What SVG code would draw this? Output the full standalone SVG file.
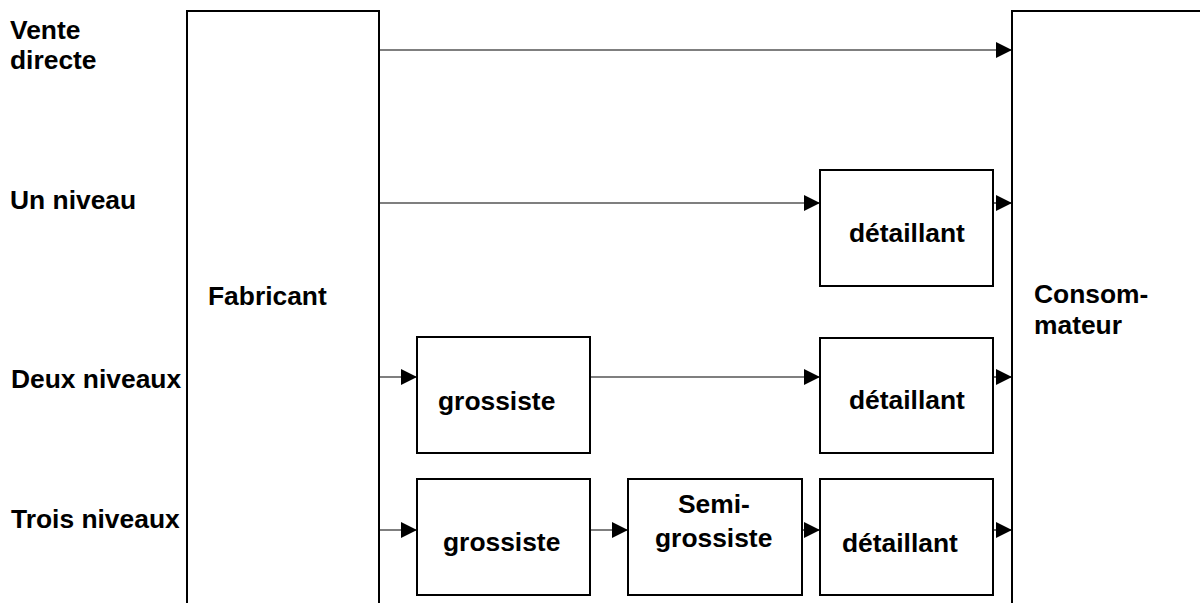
<svg xmlns="http://www.w3.org/2000/svg" width="1200" height="603" viewBox="0 0 1200 603">
<style>
.box{fill:#fff;stroke:#000;stroke-width:2}
.conn{stroke:#000;stroke-width:1.2;fill:none}
text{font-family:"Liberation Sans",Arial,sans-serif;font-weight:bold;font-size:26.4px;fill:#000}
</style>
<defs>
<marker id="ah" markerUnits="userSpaceOnUse" markerWidth="17" markerHeight="17" refX="16" refY="8" orient="auto">
<path d="M0,0 L16,8 L0,16 z" fill="#000"/>
</marker>
</defs>
<rect width="1200" height="603" fill="#fff"/>
<g id="labels">
<text x="10" y="39">Vente</text>
<text x="10" y="69">directe</text>
<text x="10" y="209">Un niveau</text>
<text x="11" y="388">Deux niveaux</text>
<text x="11" y="528">Trois niveaux</text>
</g>
<g id="fabricant">
<rect class="box" x="187" y="11" width="192" height="620"/>
<text x="208" y="305">Fabricant</text>
</g>
<g id="consommateur">
<rect class="box" x="1012" y="11" width="220" height="620"/>
<text x="1034" y="303">Consom-</text>
<text x="1034" y="334">mateur</text>
</g>
<g id="detaillant1">
<rect class="box" x="820" y="170" width="173" height="116"/>
<text x="849" y="242">détaillant</text>
</g>
<g id="grossiste1">
<rect class="box" x="417" y="337" width="173" height="116"/>
<text x="438" y="410">grossiste</text>
</g>
<g id="detaillant2">
<rect class="box" x="820" y="338" width="173" height="115"/>
<text x="849" y="409">détaillant</text>
</g>
<g id="grossiste2">
<rect class="box" x="417" y="479" width="173" height="116"/>
<text x="443" y="551">grossiste</text>
</g>
<g id="semigrossiste">
<rect class="box" x="628" y="479" width="174" height="116"/>
<text x="678" y="513">Semi-</text>
<text x="655" y="547">grossiste</text>
</g>
<g id="detaillant3">
<rect class="box" x="820" y="479" width="173" height="116"/>
<text x="842" y="552">détaillant</text>
</g>
<g id="connectors">
<line class="conn" x1="379" y1="50" x2="1012" y2="50" marker-end="url(#ah)"/>
<line class="conn" x1="379" y1="203" x2="820" y2="203" marker-end="url(#ah)"/>
<line class="conn" x1="993" y1="203" x2="1012" y2="203" marker-end="url(#ah)"/>
<line class="conn" x1="379" y1="377" x2="417" y2="377" marker-end="url(#ah)"/>
<line class="conn" x1="590" y1="377" x2="820" y2="377" marker-end="url(#ah)"/>
<line class="conn" x1="993" y1="377" x2="1012" y2="377" marker-end="url(#ah)"/>
<line class="conn" x1="379" y1="530" x2="417" y2="530" marker-end="url(#ah)"/>
<line class="conn" x1="590" y1="530" x2="628" y2="530" marker-end="url(#ah)"/>
<line class="conn" x1="802" y1="530" x2="820" y2="530" marker-end="url(#ah)"/>
<line class="conn" x1="993" y1="530" x2="1012" y2="530" marker-end="url(#ah)"/>
</g>
</svg>
